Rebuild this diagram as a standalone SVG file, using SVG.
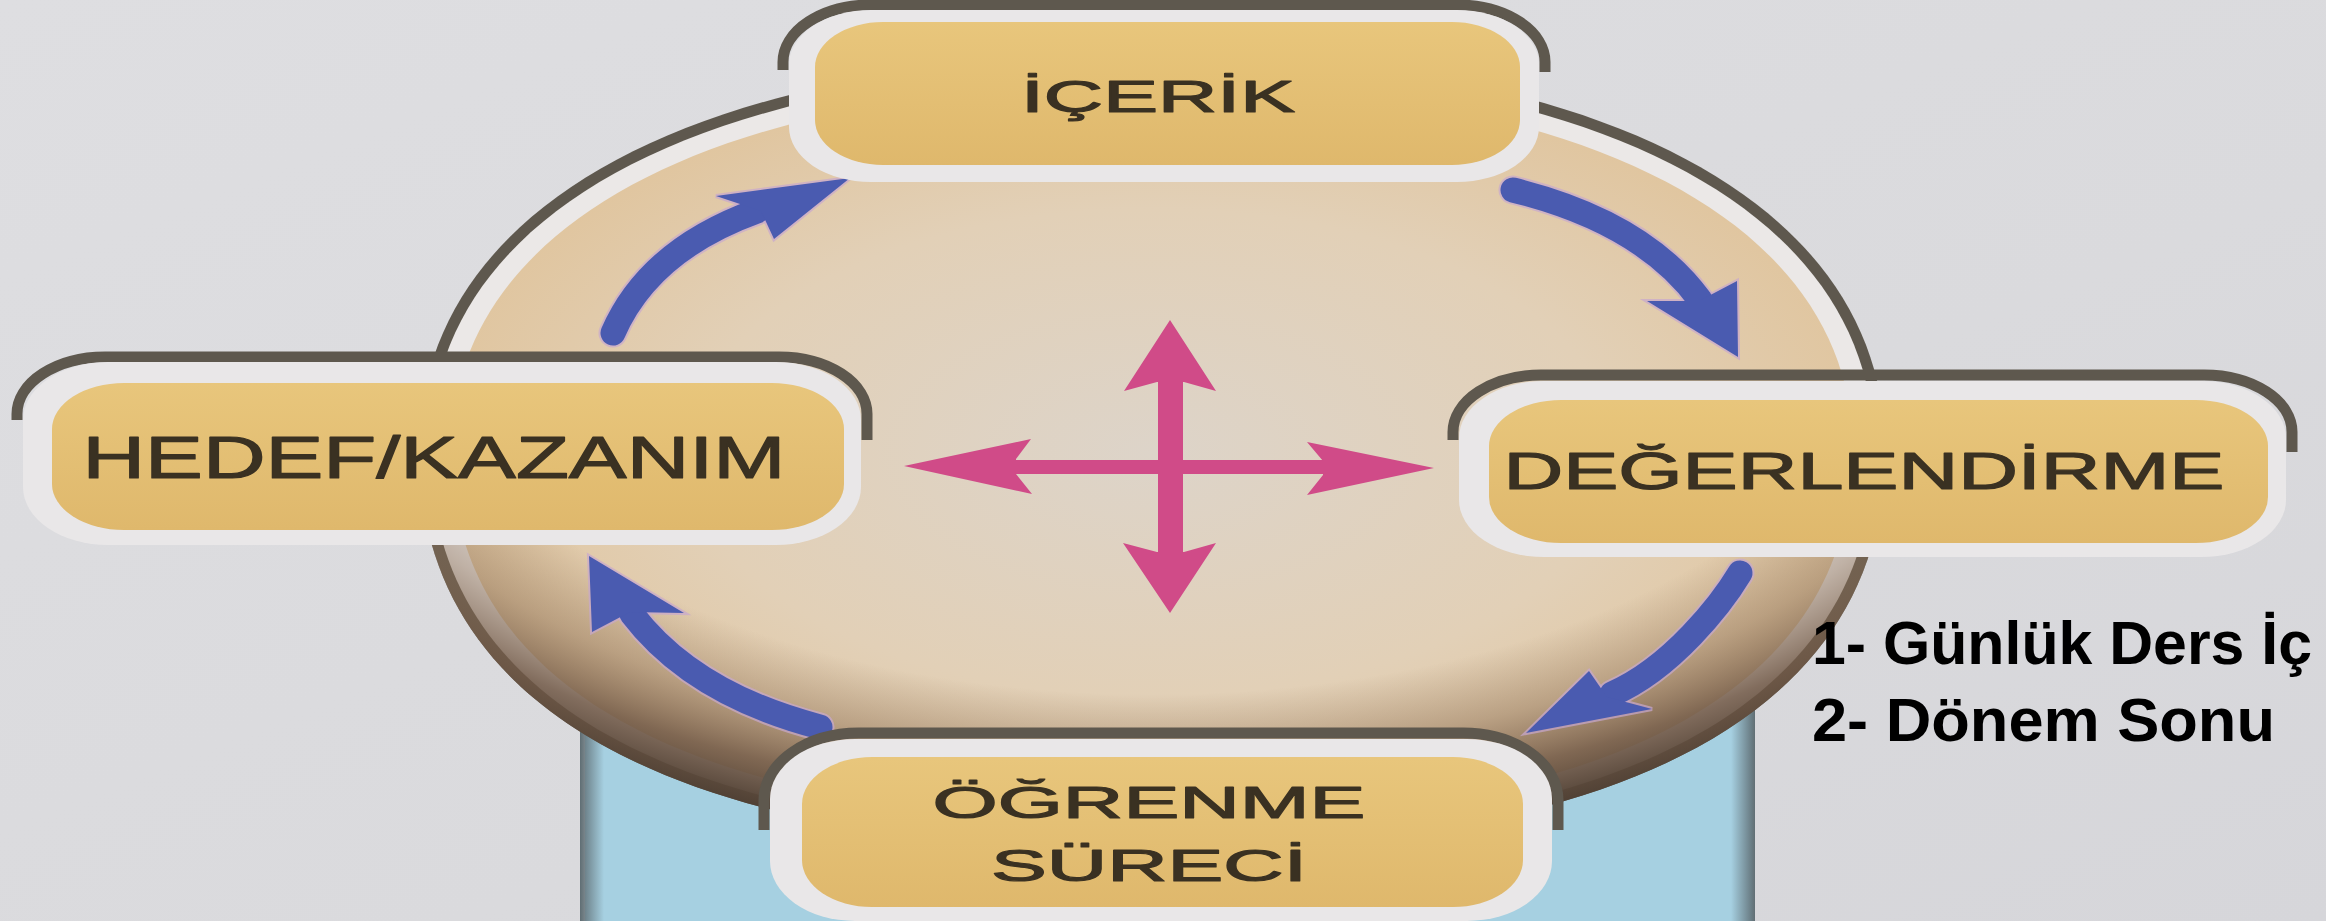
<svg xmlns="http://www.w3.org/2000/svg" width="2326" height="921" viewBox="0 0 2326 921">
  <defs>
    <style>
      .ring { fill: none; stroke: #5e584e; stroke-width: 11; }
      .gap { fill: #ebe8e7; }
      .border { fill: #e9e7e8; }
      .pill { fill: url(#pillGrad); }
      .lbl { font-family: "Liberation Sans", Arial, sans-serif; fill: #3a3122; stroke: #3a3122; stroke-width: 1.2; stroke-linejoin: round; text-anchor: middle; }
      .side { font-family: "Liberation Sans", Arial, sans-serif; font-weight: bold; font-size: 62px; fill: #000; }
      .shaft { fill: none; stroke: #4a5bb0; stroke-width: 25; stroke-linecap: round; }
      .shaftHalo { fill: none; stroke: #c8a8cf; stroke-width: 29; stroke-linecap: round; opacity: 0.7; }
      .head { fill: #4a5bb0; }
      .headHalo { fill: #c8a8cf; stroke: #c8a8cf; stroke-width: 4; opacity: 0.7; }
      .pink { fill: #d04b88; }
    </style>
    <linearGradient id="bgGrad" x1="0" y1="0" x2="1" y2="1">
      <stop offset="0" stop-color="#dedee1"/>
      <stop offset="0.6" stop-color="#dadadd"/>
      <stop offset="1" stop-color="#d6d6da"/>
    </linearGradient>
    <linearGradient id="pillGrad" x1="0" y1="0" x2="0" y2="1">
      <stop offset="0" stop-color="#e8c67c"/>
      <stop offset="1" stop-color="#dfb86c"/>
    </linearGradient>
    <radialGradient id="faceGrad" cx="0.5" cy="0.5" r="0.55">
      <stop offset="0" stop-color="#ddd4c9"/>
      <stop offset="0.6" stop-color="#e2d0b7"/>
      <stop offset="1" stop-color="#e0c49c"/>
    </radialGradient>
    <radialGradient id="rimGrad" cx="0.5" cy="0.3" r="0.7">
      <stop offset="0" stop-color="#8a6e55" stop-opacity="0"/>
      <stop offset="0.72" stop-color="#8a6e55" stop-opacity="0"/>
      <stop offset="0.83" stop-color="#8a6e55" stop-opacity="0.45"/>
      <stop offset="0.92" stop-color="#6f5745" stop-opacity="0.85"/>
      <stop offset="1" stop-color="#4f4034" stop-opacity="1"/>
    </radialGradient>
    <linearGradient id="edgeL" x1="0" y1="0" x2="1" y2="0">
      <stop offset="0" stop-color="#5f6e74"/>
      <stop offset="1" stop-color="#5f6e74" stop-opacity="0"/>
    </linearGradient>
    <linearGradient id="edgeR" x1="1" y1="0" x2="0" y2="0">
      <stop offset="0" stop-color="#5f6e74"/>
      <stop offset="1" stop-color="#5f6e74" stop-opacity="0"/>
    </linearGradient>
    <path id="diskShape" d="M 419,450 C 419,205 698,55 1152,55 C 1606,55 1885,205 1885,450 C 1885,710 1628,850 1152,850 C 676,850 419,710 419,450 Z"/>
  </defs>

  <rect x="0" y="0" width="2326" height="921" fill="url(#bgGrad)"/>

  <g id="pedestal">
    <rect x="585" y="640" width="1168" height="281" fill="#a6d0e1"/>
    <rect x="580" y="640" width="24" height="281" fill="url(#edgeL)"/>
    <rect x="1731" y="640" width="24" height="281" fill="url(#edgeR)"/>
  </g>

  <g id="disk">
    <use href="#diskShape" fill="#5e584e"/>
    <use href="#diskShape" class="gap" transform="translate(1152,452) scale(0.985,0.972) translate(-1152,-452)"/>
    <use href="#diskShape" fill="url(#faceGrad)" transform="translate(1152,452) scale(0.956,0.929) translate(-1152,-452)"/>
    <use href="#diskShape" fill="url(#rimGrad)"/>
  </g>

  <g id="connectors">
    <g id="arrow-hedef-icerik">
      <path class="shaftHalo" d="M 613,333 Q 649,250 757,211"/>
      <polygon class="headHalo" points="716,196 850,178 774,239 761,211"/>
      <path class="shaft" d="M 613,333 Q 649,250 757,211"/>
      <polygon class="head" points="716,196 850,178 774,239 761,211"/>
    </g>
    <g id="arrow-icerik-degerlendirme">
      <path class="shaftHalo" d="M 1513,190 Q 1643,222 1700,300"/>
      <polygon class="headHalo" points="1647,301 1738,357 1737,281 1699,301"/>
      <path class="shaft" d="M 1513,190 Q 1643,222 1700,300"/>
      <polygon class="head" points="1647,301 1738,357 1737,281 1699,301"/>
    </g>
    <g id="arrow-degerlendirme-ogrenme">
      <path class="shaftHalo" d="M 1740,573 C 1722,603 1672,668 1612,694"/>
      <polygon class="headHalo" points="1589,671 1526,733 1652,709 1607,697"/>
      <path class="shaft" d="M 1740,573 C 1722,603 1672,668 1612,694"/>
      <polygon class="head" points="1589,671 1526,733 1652,709 1607,697"/>
    </g>
    <g id="arrow-ogrenme-hedef">
      <path class="shaftHalo" d="M 820,727 Q 693,694 632,614"/>
      <polygon class="headHalo" points="684,613 589,556 592,632 630,612"/>
      <path class="shaft" d="M 820,727 Q 693,694 632,614"/>
      <polygon class="head" points="684,613 589,556 592,632 630,612"/>
    </g>
    <g id="cross">
      <rect class="pink" x="1158" y="378" width="25" height="176"/>
      <polygon class="pink" points="1170,320 1216,391 1184,382 1157,382 1124,391"/>
      <polygon class="pink" points="1170,613 1216,543 1184,552 1157,552 1123,543"/>
      <rect class="pink" x="1012" y="460" width="314" height="14"/>
      <polygon class="pink" points="904,466 1031,439 1016,459 1016,474 1032,494"/>
      <polygon class="pink" points="1434,468 1307,442 1323,461 1323,475 1307,495"/>
    </g>
  </g>

  <g id="node-icerik">
    <path class="ring" d="M 783,70 L 783,62 A 88 57 0 0 1 871,5 L 1457,5 A 88 57 0 0 1 1545,62 L 1545,72"/>
    <rect class="border" x="789" y="10" width="750" height="172" rx="82" ry="55"/>
    <rect class="pill" x="815" y="22" width="705" height="143" rx="68" ry="45"/>
    <text class="lbl" x="1158" y="112" font-size="45" textLength="274" lengthAdjust="spacingAndGlyphs">İÇERİK</text>
  </g>

  <g id="node-hedef">
    <path class="ring" d="M 17,420 L 17,414 A 88 57 0 0 1 105,357 L 779,357 A 88 57 0 0 1 867,414 L 867,440"/>
    <rect class="border" x="23" y="362" width="838" height="183" rx="85" ry="58"/>
    <rect class="pill" x="52" y="383" width="792" height="147" rx="72" ry="46"/>
    <text class="lbl" x="434" y="478" font-size="59" textLength="703" lengthAdjust="spacingAndGlyphs">HEDEF/KAZANIM</text>
  </g>

  <g id="node-degerlendirme">
    <path class="ring" d="M 1453,440 L 1453,432 A 88 57 0 0 1 1541,375 L 2204,375 A 88 57 0 0 1 2292,432 L 2292,452"/>
    <rect class="border" x="1459" y="381" width="827" height="176" rx="85" ry="57"/>
    <rect class="pill" x="1489" y="400" width="779" height="143" rx="72" ry="46"/>
    <text class="lbl" x="1864" y="489" font-size="52" textLength="721" lengthAdjust="spacingAndGlyphs">DEĞERLENDİRME</text>
  </g>

  <g id="node-ogrenme">
    <path class="ring" d="M 764,830 L 764,800 A 95 67 0 0 1 859,733 L 1463,733 A 95 67 0 0 1 1558,800 L 1558,830"/>
    <rect class="border" x="770" y="739" width="782" height="182" rx="85" ry="60"/>
    <rect class="pill" x="802" y="757" width="721" height="150" rx="70" ry="47"/>
    <text class="lbl" x="1149" y="818" font-size="45" textLength="433" lengthAdjust="spacingAndGlyphs">ÖĞRENME</text>
    <text class="lbl" x="1149" y="881" font-size="45" textLength="316" lengthAdjust="spacingAndGlyphs">SÜRECİ</text>
  </g>

  <g id="note">
    <text class="side" x="1812" y="664" textLength="500" lengthAdjust="spacingAndGlyphs">1- Günlük Ders İç</text>
    <text class="side" x="1812" y="741" textLength="463" lengthAdjust="spacingAndGlyphs">2- Dönem Sonu</text>
  </g>
</svg>
